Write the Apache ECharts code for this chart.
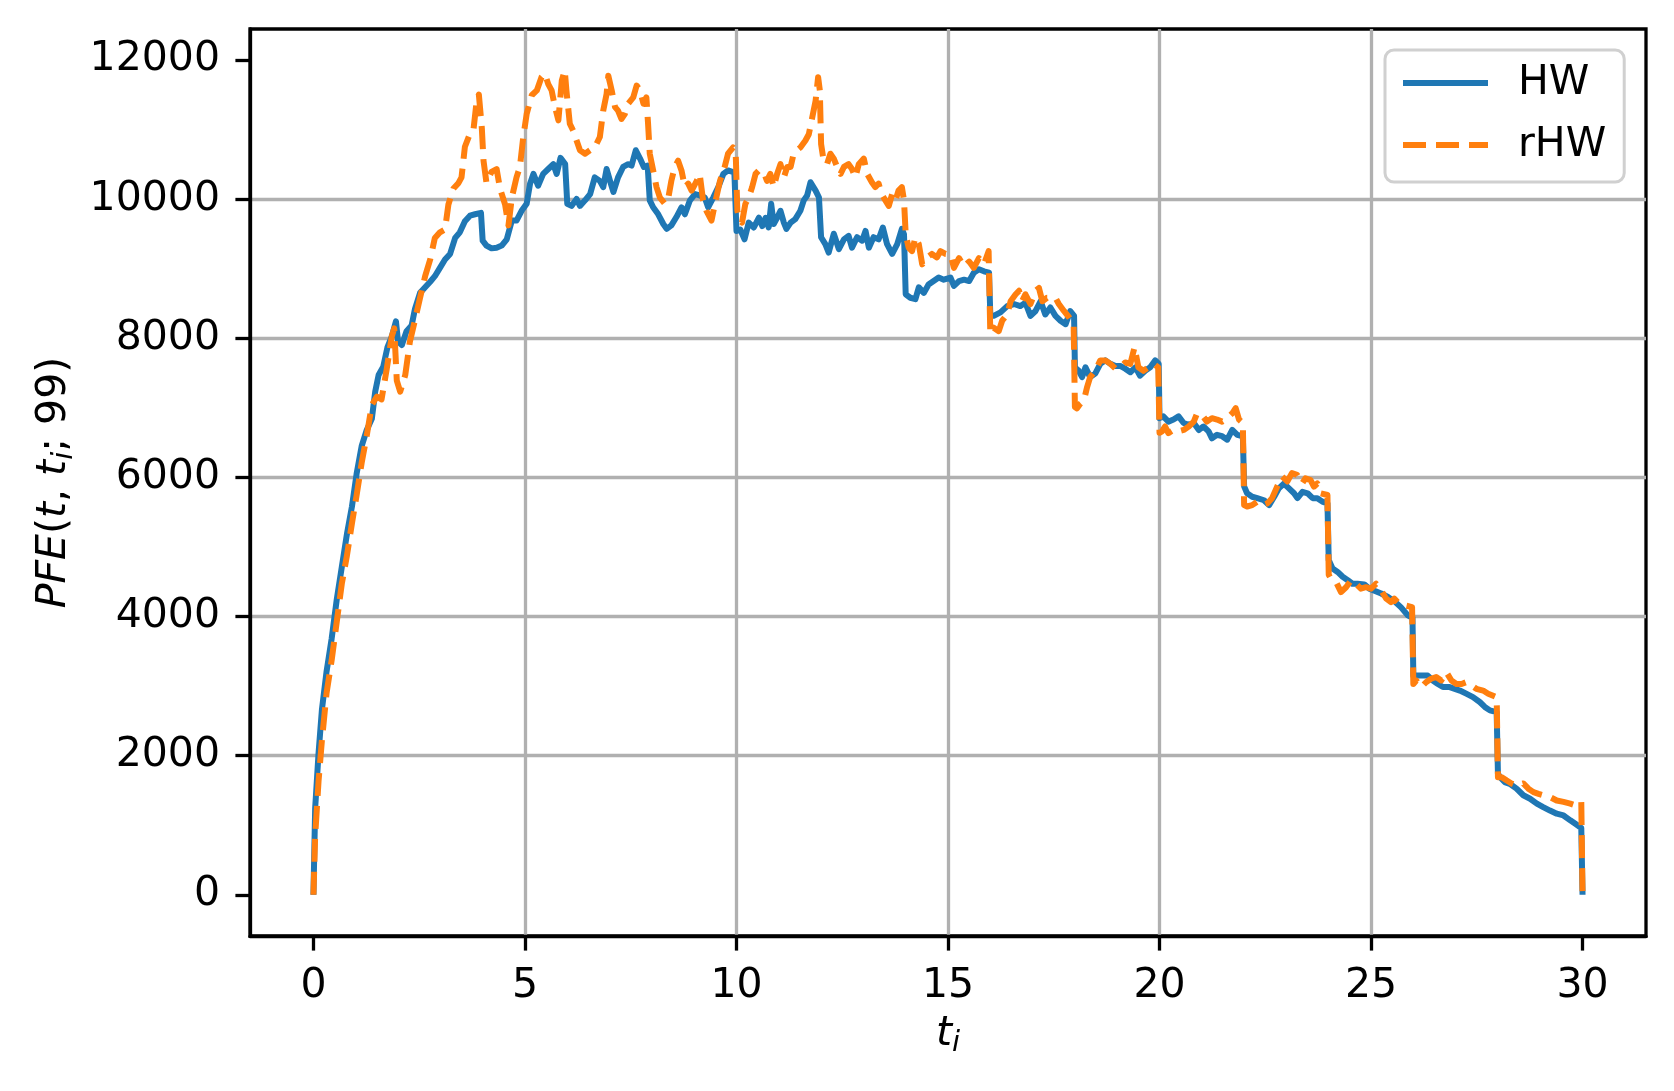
<!DOCTYPE html>
<html>
<head>
<meta charset="utf-8">
<script src="https://cdn.jsdelivr.net/npm/echarts@6/dist/echarts.min.js"></script>
<style>
html,body{margin:0;padding:0;background:#fff;}
#chart{width:1674px;height:1091px;}
</style>
</head>
<body>
<div id="chart"></div>
<script>
// ---- Data ----
var seriesNames = ['HW', 'rHW'];
var xTickValues = [0, 5, 10, 15, 20, 25, 30];
var yTickValues = [0, 2000, 4000, 6000, 8000, 10000, 12000];

var hwT = [0,0.04,0.12,0.2,0.31,0.43,0.55,0.67,0.79,0.91,1.02,1.14,1.26,1.38,1.46,1.54,1.65,1.75,1.85,1.95,2.0,2.09,2.2,2.32,2.4,2.52,2.64,2.76,2.87,2.99,3.11,3.23,3.35,3.46,3.58,3.7,3.82,3.96,4.0,4.09,4.21,4.33,4.45,4.57,4.69,4.8,4.92,5.04,5.12,5.2,5.31,5.43,5.55,5.67,5.75,5.84,5.95,6.0,6.1,6.22,6.3,6.42,6.54,6.65,6.77,6.85,6.93,7.01,7.09,7.2,7.32,7.44,7.52,7.62,7.72,7.81,7.9,7.95,8.03,8.15,8.27,8.35,8.46,8.58,8.7,8.78,8.9,9.02,9.13,9.25,9.33,9.45,9.57,9.69,9.8,9.95,10.0,10.09,10.19,10.29,10.41,10.53,10.61,10.69,10.76,10.82,10.88,10.96,11.04,11.12,11.18,11.28,11.39,11.51,11.59,11.67,11.75,11.87,11.95,12.0,12.1,12.18,12.3,12.42,12.54,12.65,12.73,12.85,12.97,13.05,13.13,13.24,13.36,13.46,13.56,13.68,13.8,13.91,13.96,14.0,14.11,14.23,14.31,14.43,14.54,14.66,14.78,14.9,15.06,15.14,15.26,15.38,15.5,15.61,15.73,15.85,15.97,16.0,16.08,16.24,16.4,16.56,16.71,16.83,16.95,17.07,17.19,17.3,17.42,17.54,17.66,17.78,17.89,17.98,18.0,18.09,18.17,18.25,18.36,18.48,18.6,18.72,18.84,18.96,19.07,19.19,19.31,19.43,19.54,19.66,19.78,19.9,19.98,20.0,20.09,20.21,20.33,20.45,20.57,20.69,20.81,20.93,21.04,21.16,21.24,21.36,21.48,21.6,21.72,21.84,21.97,22.0,22.07,22.19,22.31,22.47,22.59,22.71,22.82,22.94,23.06,23.18,23.26,23.38,23.5,23.62,23.73,23.85,23.97,24.0,24.09,24.21,24.33,24.45,24.56,24.68,24.84,24.96,25.08,25.24,25.4,25.55,25.71,25.87,25.98,26.0,26.11,26.23,26.34,26.46,26.58,26.7,26.86,26.98,27.1,27.25,27.41,27.57,27.69,27.81,27.97,28.0,28.05,28.16,28.28,28.44,28.6,28.76,28.92,29.07,29.23,29.39,29.55,29.71,29.83,29.97,30.0];
var hwV = [0,1240,2030,2660,3210,3680,4240,4710,5180,5580,6050,6450,6680,6840,7230,7470,7590,7870,8020,8240,7950,7900,8100,8180,8420,8650,8730,8810,8890,9010,9130,9210,9440,9520,9680,9760,9780,9800,9400,9330,9290,9300,9330,9420,9690,9690,9830,9930,10220,10360,10190,10360,10430,10500,10360,10590,10500,9930,9900,10000,9900,9980,10070,10310,10260,10170,10430,10260,10100,10310,10460,10500,10480,10700,10580,10460,10480,9980,9880,9780,9640,9570,9620,9740,9880,9780,9980,10070,10050,10020,9880,10020,10170,10360,10410,10380,9540,9560,9420,9660,9590,9730,9610,9730,9590,9930,9640,9730,9830,9660,9570,9660,9710,9830,9980,10050,10240,10120,10020,9450,9350,9230,9500,9280,9420,9470,9300,9450,9400,9540,9300,9450,9420,9590,9350,9210,9350,9570,9490,8630,8580,8560,8730,8650,8770,8820,8870,8840,8870,8750,8820,8840,8820,8940,8990,8960,8940,8340,8320,8370,8460,8490,8460,8510,8320,8390,8530,8340,8440,8320,8250,8200,8390,8320,7580,7530,7440,7580,7440,7490,7630,7680,7630,7600,7600,7560,7510,7580,7460,7530,7580,7680,7630,6850,6875,6800,6830,6875,6780,6755,6780,6680,6730,6660,6560,6610,6590,6540,6680,6610,6590,5870,5770,5720,5700,5670,5600,5720,5840,5910,5840,5770,5700,5790,5770,5700,5700,5650,5625,4810,4690,4640,4570,4520,4470,4470,4460,4400,4370,4330,4280,4220,4130,4015,3980,3150,3150,3150,3150,3080,3030,2985,2985,2960,2935,2890,2840,2770,2700,2650,2625,1740,1690,1620,1595,1525,1430,1380,1310,1260,1210,1165,1140,1070,1020,960,0];

var rhwT = [0,0.04,0.12,0.2,0.31,0.43,0.55,0.67,0.79,0.91,1.02,1.14,1.26,1.38,1.5,1.61,1.73,1.85,1.91,1.97,2.05,2.17,2.28,2.4,2.52,2.64,2.76,2.87,2.99,3.11,3.19,3.31,3.43,3.5,3.58,3.7,3.78,3.86,3.91,3.98,4.02,4.09,4.21,4.33,4.41,4.53,4.61,4.69,4.8,4.88,4.96,5.04,5.16,5.28,5.39,5.47,5.55,5.63,5.71,5.79,5.87,5.94,5.98,6.06,6.14,6.22,6.3,6.42,6.54,6.65,6.77,6.85,6.93,6.97,7.05,7.13,7.2,7.28,7.36,7.44,7.56,7.64,7.72,7.8,7.87,7.91,7.95,8.03,8.11,8.19,8.31,8.39,8.46,8.54,8.62,8.7,8.78,8.86,8.94,9.06,9.13,9.21,9.29,9.41,9.49,9.61,9.72,9.8,9.92,9.98,10.02,10.08,10.13,10.21,10.29,10.37,10.45,10.53,10.65,10.72,10.8,10.88,10.96,11.04,11.12,11.2,11.28,11.35,11.43,11.51,11.63,11.71,11.79,11.87,11.93,11.97,12.0,12.06,12.14,12.22,12.3,12.38,12.46,12.54,12.65,12.73,12.81,12.89,13.01,13.09,13.2,13.28,13.36,13.43,13.52,13.6,13.68,13.76,13.83,13.91,13.96,14.0,14.07,14.15,14.23,14.31,14.39,14.5,14.62,14.74,14.82,14.94,15.06,15.14,15.26,15.38,15.5,15.61,15.73,15.85,15.96,16.0,16.08,16.2,16.28,16.4,16.48,16.6,16.68,16.75,16.83,16.95,17.07,17.15,17.23,17.34,17.46,17.54,17.62,17.74,17.86,17.97,18.0,18.05,18.13,18.21,18.29,18.36,18.48,18.6,18.72,18.84,18.96,19.07,19.19,19.31,19.41,19.5,19.62,19.74,19.86,19.97,20.0,20.06,20.13,20.21,20.33,20.45,20.57,20.69,20.81,20.89,21.0,21.12,21.24,21.36,21.48,21.56,21.64,21.72,21.8,21.88,21.97,22.0,22.07,22.19,22.31,22.43,22.55,22.66,22.78,22.9,23.02,23.13,23.25,23.37,23.45,23.57,23.65,23.73,23.81,23.97,24.0,24.05,24.17,24.29,24.41,24.53,24.64,24.76,24.88,25.0,25.12,25.24,25.36,25.47,25.55,25.67,25.79,25.97,26.0,26.07,26.19,26.3,26.42,26.54,26.66,26.78,26.9,27.02,27.14,27.25,27.37,27.49,27.65,27.77,27.97,28.0,28.09,28.2,28.32,28.44,28.6,28.72,28.84,28.96,29.07,29.23,29.39,29.55,29.71,29.83,29.97,30.0];
var rhwV = [0,840,1630,2220,2900,3370,3920,4470,4870,5340,5740,6210,6600,7040,7160,7120,7550,8020,8140,7390,7230,7470,7950,8260,8580,8890,9130,9440,9520,9560,9920,10150,10230,10310,10750,10940,10980,11420,11500,11020,10550,10230,10390,10430,10150,9920,9620,10020,10310,10460,10890,11220,11490,11560,11750,11800,11650,11560,11320,11130,11700,11850,11560,11080,10980,10840,10700,10650,10700,10740,10890,11270,11510,11770,11560,11320,11270,11150,11220,11370,11460,11630,11560,11370,11460,11080,10650,10410,10170,10020,9930,10020,10260,10460,10550,10410,10170,10220,10120,10260,10360,9980,9830,9690,9930,10260,10460,10650,10740,10700,9830,9690,9660,9930,10020,10170,10360,10410,10380,10260,10360,10170,10360,10500,10310,10460,10460,10650,10700,10740,10840,10930,11170,11410,11750,11560,10790,10550,10500,10650,10580,10460,10360,10460,10500,10430,10310,10500,10580,10360,10240,10170,10220,10070,9980,9900,10070,9980,10120,10170,9980,9490,9300,9250,9450,9350,9060,9160,9210,9160,9250,9210,9200,9010,9150,9030,9100,9010,9150,9060,9250,8060,8150,8100,8250,8340,8530,8630,8680,8530,8630,8490,8680,8720,8530,8580,8580,8580,8490,8390,8300,8200,7010,6990,7060,7100,7300,7440,7530,7680,7680,7630,7560,7580,7650,7630,7870,7580,7530,7580,7630,7580,6640,6660,6730,6635,6680,6660,6680,6730,6800,6920,6900,6800,6850,6830,6800,6830,6875,6920,6995,6830,6780,5600,5580,5600,5650,5600,5625,5700,5865,6010,5940,6060,6035,5910,5985,5960,5865,5910,5770,5745,4600,4545,4500,4350,4420,4520,4470,4400,4420,4400,4470,4375,4255,4205,4255,4180,4160,4135,3030,3080,2985,3055,3105,3130,3080,3200,3080,3030,3030,3055,3010,2960,2935,2890,2840,1690,1690,1645,1600,1570,1600,1525,1475,1450,1430,1405,1355,1335,1310,1285,1340,0];

function pairs(ts, vs) { return ts.map(function (t, i) { return [t, vs[i]]; }); }

var FONT = 'DejaVu Sans';
var chart = echarts.init(document.getElementById('chart'), null, {renderer: 'canvas', width: 1674, height: 1091});

chart.setOption({
  animation: false,
  backgroundColor: '#ffffff',
  textStyle: {fontFamily: FONT},
  grid: {
    left: 250, right: 28, top: 29, bottom: 155,
    show: true, borderColor: '#000000', borderWidth: 3.3, backgroundColor: 'transparent',
    outerBoundsMode: 'none', containLabel: false
  },
  legend: {
    orient: 'vertical',
    left: 1385, top: 50,
    padding: [12, 18, 16, 15],
    itemWidth: 85, itemHeight: 20, itemGap: 20,
    backgroundColor: 'rgba(255,255,255,0.8)',
    borderColor: '#d0d0d0', borderWidth: 3, borderRadius: 9,
    itemStyle: {opacity: 0, color: 'transparent', borderWidth: 0},
    lineStyle: {width: 6, opacity: 1},
    textStyle: {fontFamily: FONT, fontSize: 41, color: '#000', padding: [0, 0, 0, 25], lineHeight: 42},
    data: seriesNames
  },
  xAxis: {
    type: 'value', min: -1.5, max: 31.5,
    name: '{it|t}{sub|i}',
    nameLocation: 'middle', nameGap: 74,
    nameTextStyle: {
      color: '#000',
      rich: {
        it: {fontFamily: FONT, fontStyle: 'italic', fontSize: 41, lineHeight: 48, verticalAlign: 'middle'},
        sub: {fontFamily: FONT, fontStyle: 'italic', fontSize: 29, lineHeight: 29, verticalAlign: 'bottom'}
      }
    },
    axisLine: {show: true, onZero: false, lineStyle: {color: '#000', width: 3.3}},
    axisTick: {show: true, inside: false, length: 14.6, lineStyle: {color: '#000', width: 3.3}, customValues: xTickValues},
    axisLabel: {show: true, margin: 30, fontFamily: FONT, fontSize: 41, color: '#000', customValues: xTickValues,
      formatter: function (v) { return String(v); }},
    splitLine: {show: true, showMinLine: false, showMaxLine: false, lineStyle: {color: '#b0b0b0', width: 3.3}}
  },
  yAxis: {
    type: 'value', min: -592.5, max: 12442.5,
    name: '{it|PFE}{rm|(}{it|t}{rm|, }{it|t}{sub|i}{rm|; 99)}',
    nameLocation: 'middle', nameRotate: 90, nameGap: 170,
    nameTextStyle: {
      color: '#000',
      rich: {
        it: {fontFamily: FONT, fontStyle: 'italic', fontSize: 41, lineHeight: 48, verticalAlign: 'middle'},
        rm: {fontFamily: FONT, fontSize: 41, lineHeight: 48, verticalAlign: 'middle'},
        sub: {fontFamily: FONT, fontStyle: 'italic', fontSize: 29, lineHeight: 29, verticalAlign: 'bottom'}
      }
    },
    axisLine: {show: true, onZero: false, lineStyle: {color: '#000', width: 3.3}},
    axisTick: {show: true, inside: false, length: 14.6, lineStyle: {color: '#000', width: 3.3}, customValues: yTickValues},
    axisLabel: {show: true, margin: 30, fontFamily: FONT, fontSize: 41, color: '#000', customValues: yTickValues,
      formatter: function (v) { return String(v); }},
    splitLine: {show: true, showMinLine: false, showMaxLine: false, lineStyle: {color: '#b0b0b0', width: 3.3}}
  },
  series: [
    {
      name: seriesNames[0], type: 'line', data: pairs(hwT, hwV),
      showSymbol: false, symbol: 'none', clip: true,
      color: '#1f77b4',
      lineStyle: {color: '#1f77b4', width: 6, join: 'round', cap: 'butt'},
      z: 3
    },
    {
      name: seriesNames[1], type: 'line', data: pairs(rhwT, rhwV),
      showSymbol: false, symbol: 'none', clip: true,
      color: '#ff7f0e',
      lineStyle: {color: '#ff7f0e', width: 6, type: [23, 10], join: 'round', cap: 'butt'},
      z: 4
    }
  ]
});
</script>
</body>
</html>
